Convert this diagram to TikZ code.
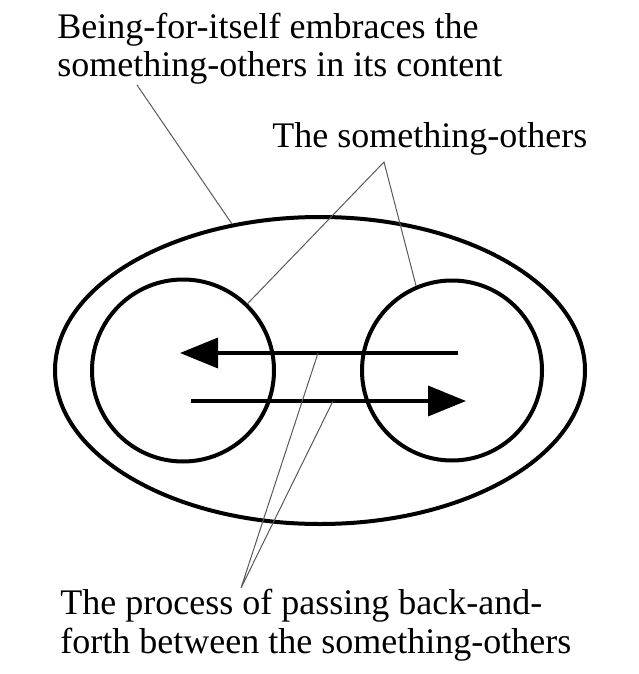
\documentclass[tikz,border=0pt]{standalone}
\usepackage{fontspec}
\setmainfont{Liberation Serif}
\usetikzlibrary{shapes.geometric,arrows.meta}
\begin{document}
\begin{tikzpicture}[x=0.5pt,y=-0.5pt]
\tikzset{every node/.style={inner sep=0pt},
  ring/.style={draw,line width=2pt},
  flow/.style={line width=1.8pt,-{Triangle[length=19pt,width=15pt]}},
  leader/.style={draw=black!65,line width=0.5pt},
  label/.style={align=left,anchor=base west,font=\fontsize{18}{19.5}\selectfont}}
\useasboundingbox (0,0) rectangle (638,674);
% the whole and its two members
\node[ring,ellipse,minimum width=265pt,minimum height=153.5pt] (whole) at (320,370.5) {};
\node[ring,circle,minimum size=91pt] (left) at (183,370.5) {};
\node[ring,circle,minimum size=90pt] (right) at (452,370.5) {};
% passing back and forth
\coordinate (backstart) at (458,353);
\coordinate (backend) at (180,353);
\coordinate (forthstart) at (191,401);
\coordinate (forthend) at (466,401);
\draw[flow] (backstart) -- (backend);
\draw[flow] (forthstart) -- (forthend);
\coordinate (backhit) at (318,353);
\coordinate (forthhit) at (333,401);
% labels
\node[label] (beingtxt) at (57,77) {Being-for-itself embraces the\\something-others in its content};
\node[label] (otherstxt) at (272,148) {The something-others};
\node[label] (processtxt) at (60,653) {The process of passing back-and-\\forth between the something-others};
\coordinate (beingtip) at (137,85);
\coordinate (otherstip) at (384,162);
\coordinate (processtip) at (241,588);
\draw[leader] (beingtip) -- (whole.121.8);
\draw[leader] (left.46.7) -- (otherstip) -- (right.113);
\draw[leader] (backhit) -- (processtip) -- (forthhit);
\end{tikzpicture}
\end{document}
